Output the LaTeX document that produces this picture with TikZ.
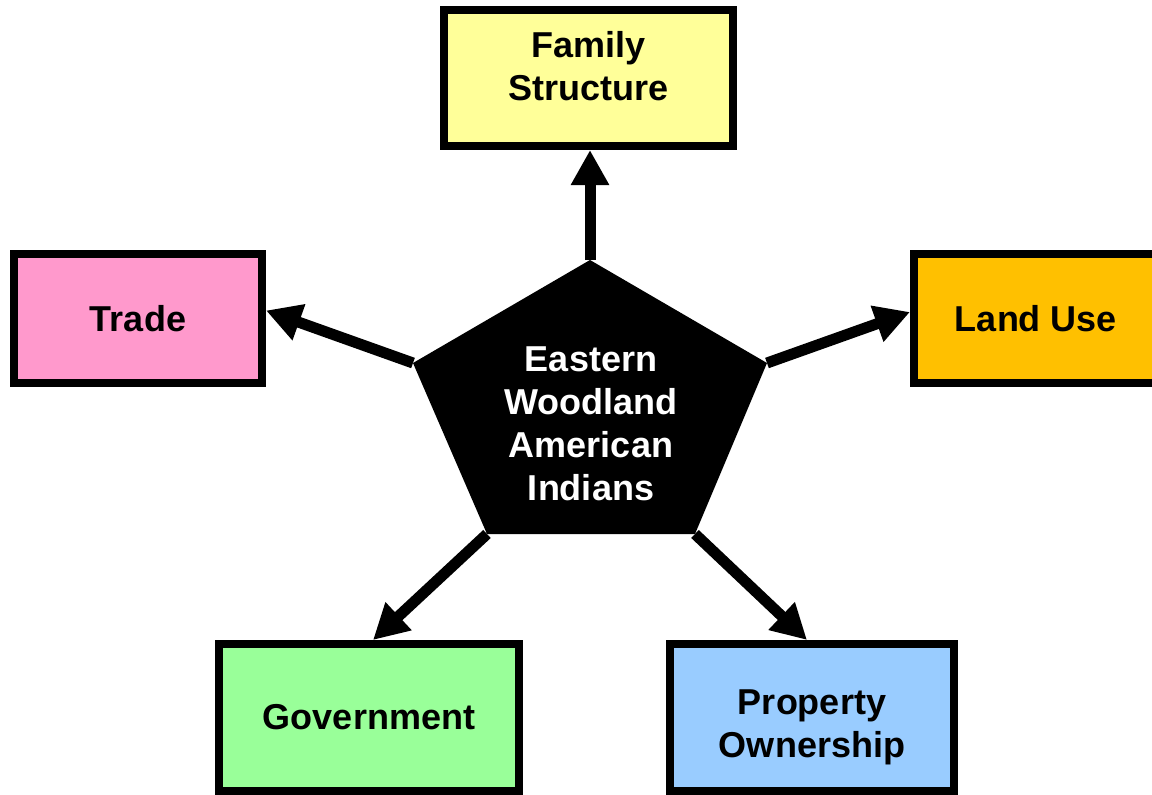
\documentclass[tikz,border=0pt]{standalone}
\usepackage{fontspec}
\setmainfont{Liberation Sans}
\usetikzlibrary{arrows.meta}
\definecolor{famyellow}{HTML}{FFFF99}
\definecolor{tradepink}{HTML}{FF99CC}
\definecolor{landorange}{HTML}{FFC000}
\definecolor{govgreen}{HTML}{99FF99}
\definecolor{propblue}{HTML}{99CCFF}
\begin{document}
\begin{tikzpicture}[x=1pt,y=-1pt,>={Triangle[length=35pt,width=36pt]},
	font=\fontsize{36}{43}\selectfont\bfseries,
	box/.style={draw,line width=8pt,align=center,inner sep=0pt},
	link/.style={->,line width=11pt}]
		\useasboundingbox (0,0) rectangle (1152,795);
		\clip (0,0) rectangle (1152,795);
		% the five boxes
		\node[box,fill=famyellow,minimum width=289pt,minimum height=136pt,text height=69pt,text depth=25pt] (fam) at (588.5,78) {Family\\Structure};
		\node[box,fill=tradepink,minimum width=248pt,minimum height=129pt] (trade) at (138,318.5) {Trade};
		\node[box,fill=landorange,minimum width=244pt,minimum height=129pt] (land) at (1036,318.5) {Land Use};
		\node[box,fill=govgreen,minimum width=300pt,minimum height=147pt] (gov) at (369,717.5) {Government};
		\node[box,fill=propblue,minimum width=284pt,minimum height=147pt,text height=79pt,text depth=0pt] (prop) at (812,717.5) {Property\\Ownership};
		% the pentagon
		\coordinate (p1) at (590,260);
		\coordinate (p2) at (767,363);
		\coordinate (p3) at (695,534);
		\coordinate (p4) at (487,534);
		\coordinate (p5) at (413,363);
		\fill (p1)--(p2)--(p3)--(p4)--(p5)--cycle;
		\node[text=white,align=center] (woodland) at (591,424) {Eastern\\Woodland\\American\\Indians};
		% arrows
		\draw[link] (p1)--(p1 |- fam.south);
		\draw[link] (p5)--([yshift=8pt]trade.east);
		\draw[link] (p2)--([yshift=6.5pt]land.west);
		\draw[link] (p4)--([xshift=4pt]gov.north);
		\draw[link] (p3)--([xshift=-5pt]prop.north);
\end{tikzpicture}
\end{document}
